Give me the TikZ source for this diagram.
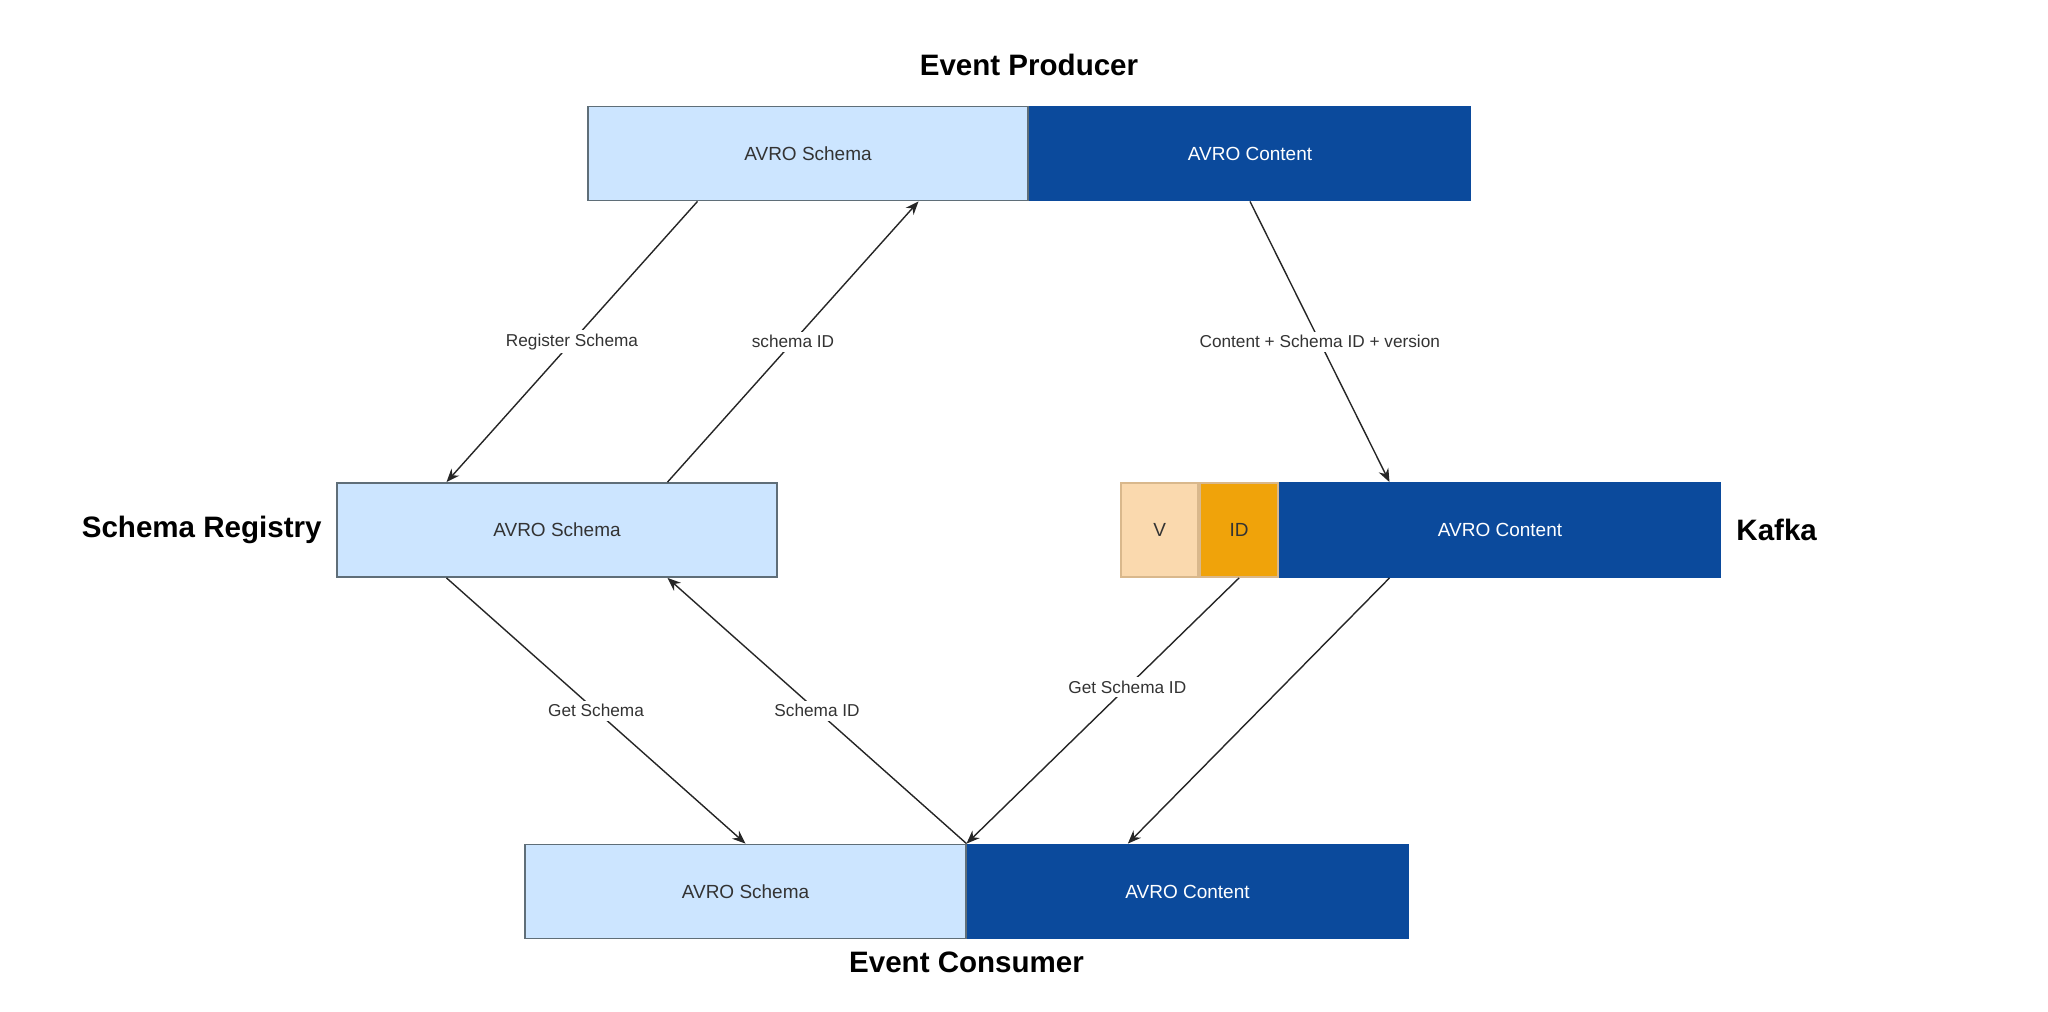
\documentclass[tikz,border=0pt]{standalone}
\usepackage{fontspec}
\setmainfont{Liberation Sans}
\usetikzlibrary{calc}
\usetikzlibrary{positioning}
\usetikzlibrary{arrows.meta}

\definecolor{schemablue}{HTML}{CCE5FF}
\definecolor{schemaline}{HTML}{5F6E78}
\definecolor{contentblue}{HTML}{0B4A9C}
\definecolor{versionpeach}{HTML}{FAD9AE}
\definecolor{versionline}{HTML}{D9B88C}
\definecolor{idorange}{HTML}{F0A30A}

\tikzset{
    schemabox/.style={rectangle, minimum width=4.4cm, minimum height=0.94cm, inner sep=0pt, fill=schemablue, draw=schemaline, line width=0.5pt, text=black!80, font=\fontsize{5.4}{6}\selectfont},
    contentbox/.style={schemabox, fill=contentblue, draw=contentblue, text=white},
    versionbox/.style={schemabox, minimum width=0.77cm, fill=versionpeach, draw=versionline},
    idbox/.style={schemabox, minimum width=0.78cm, fill=idorange, draw=versionline},
    title/.style={font=\bfseries\fontsize{8.4}{10}\selectfont},
    flow/.style={-{Stealth[length=3.8pt,width=3pt]}, line width=0.4pt, black!85},
    flowlabel/.style={fill=white, inner sep=1pt, font=\fontsize{4.9}{6}\selectfont, text=black!80}
}

\begin{document}
\begin{tikzpicture}[x=0.01cm, y=-0.01cm]
    \useasboundingbox (0,0) rectangle (2048,1011);

    % producer
    \node [schemabox] (prodschema) at (808,153.5) {AVRO Schema};
    \node [contentbox, right=0pt of prodschema] (prodcontent) {AVRO Content};
    \node [title, above=0.17cm of prodschema.north east] (prodtitle) {Event Producer};

    % registry
    \node [schemabox] (registry) at (557,530) {AVRO Schema};
    \node [title, left=0.02cm of registry] (regtitle) {Schema Registry};

    % kafka
    \node [contentbox] (kafkacontent) at (1500,530) {AVRO Content};
    \node [idbox, left=0pt of kafkacontent] (kafkaid) {ID};
    \node [versionbox, left=0pt of kafkaid] (kafkaver) {V};
    \node [title, right=0.03cm of kafkacontent] (kafkatitle) {Kafka};

    % consumer
    \node [schemabox] (consschema) at (745.5,891.5) {AVRO Schema};
    \node [contentbox, right=0pt of consschema] (conscontent) {AVRO Content};
    \node [title, below=0cm of consschema.south east] (constitle) {Event Consumer};

    \draw [flow] ($(prodschema.south west)!0.25!(prodschema.south east)$) -- node[flowlabel] {Register Schema} ($(registry.north west)!0.25!(registry.north east)$);
    \draw [flow] ($(registry.north west)!0.75!(registry.north east)$) -- node[flowlabel] {schema ID} ($(prodschema.south west)!0.75!(prodschema.south east)$);
    \draw [flow] (prodcontent.south) -- node[flowlabel] {Content + Schema ID + version} ($(kafkacontent.north west)!0.25!(kafkacontent.north east)$);
    \draw [flow] ($(registry.south west)!0.25!(registry.south east)$) -- node[flowlabel] {Get Schema} (consschema.north);
    \draw [flow] (consschema.north east) -- node[flowlabel] {Schema ID} ($(registry.south west)!0.75!(registry.south east)$);
    \draw [flow] (kafkaid.south) -- node[flowlabel, pos=0.41] {Get Schema ID} (consschema.north east);
    \draw [flow] ($(kafkacontent.south west)!0.25!(kafkacontent.south east)$) -- ($(conscontent.north west)!0.365!(conscontent.north east)$);
\end{tikzpicture}
\end{document}
